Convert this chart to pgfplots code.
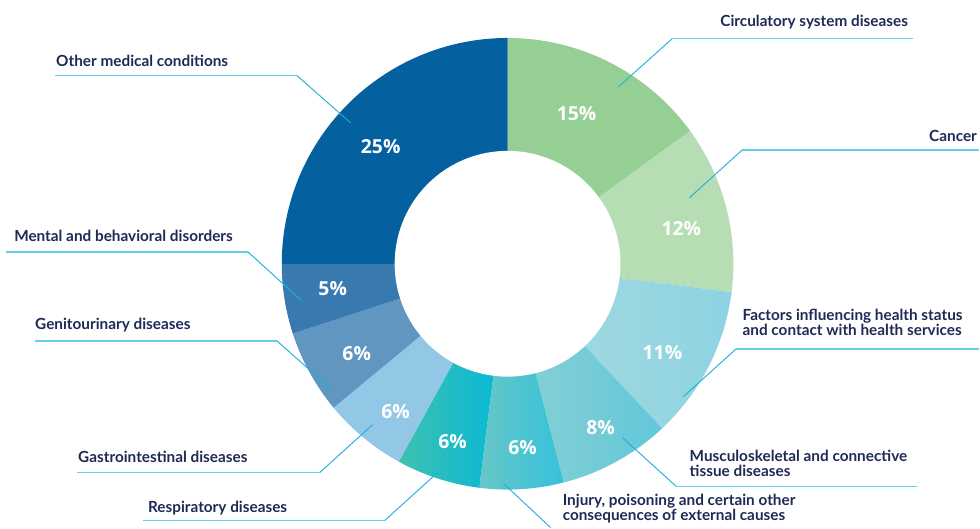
\documentclass[border=0pt]{standalone}
\usepackage{fontspec}
\setmainfont{Lato}
\newfontfamily\pctfont{Open Sans}
\usepackage{pgfplots}
\pgfplotsset{compat=1.18}
\definecolor{cOther}{HTML}{05609F}
\definecolor{cCirc}{HTML}{96CF93}
\definecolor{cCancer}{HTML}{B6DDB3}
\definecolor{cFacL}{HTML}{A8DBDE}
\definecolor{cFacR}{HTML}{8DD3E2}
\definecolor{cMusL}{HTML}{8AD1D3}
\definecolor{cMusR}{HTML}{62C7DA}
\definecolor{cInjL}{HTML}{66C7C6}
\definecolor{cInjR}{HTML}{36C1DB}
\definecolor{cResL}{HTML}{3EC1B2}
\definecolor{cResR}{HTML}{02B8D7}
\definecolor{cGas}{HTML}{92C8E6}
\definecolor{cGen}{HTML}{6096C0}
\definecolor{cMen}{HTML}{3879B0}
\definecolor{lbl}{HTML}{1E2A55}
\definecolor{lineA}{HTML}{1DB2D9}
\definecolor{lineB}{HTML}{62D0EA}
% start (cumulative %), size (%)
\newcommand{\slice}[3]{%
  \addplot[#3, draw=none, domain={#1*3.6}:{(#1+#2)*3.6}, samples=80, variable=\t]
    ({226*sin(\t)},{226*cos(\t)}) -- (axis cs:0,0) -- cycle;}
\newcommand{\leader}[3]{%
  \draw[lineA, line width=0.7pt] (axis cs:#1) -- (axis cs:#2);
  \draw[lineB, line width=1.3pt] (axis cs:#2) -- (axis cs:#3);}
\tikzset{lab/.style={text=lbl, inner sep=0pt, font=\bfseries\fontsize{11.5}{13}\selectfont},
         pct/.style={text=white, inner sep=0pt, font=\pctfont\bfseries\fontsize{14.5}{16}\selectfont}}
\begin{document}
\begin{tikzpicture}
\begin{axis}[x=0.75pt, y=0.75pt, xmin=-508, xmax=472, ymin=-263, ymax=264,
  hide axis, clip=false, scale only axis]
\path (axis cs:-508,-263) rectangle (axis cs:472,264);
\slice{0}{15}{fill=cCirc}
\slice{15}{12}{fill=cCancer}
\slice{27}{11}{left color=cFacL, right color=cFacR}
\slice{38}{8}{left color=cMusL, right color=cMusR}
\slice{46}{6}{left color=cInjL, right color=cInjR}
\slice{52}{6}{left color=cResL, right color=cResR}
\slice{58}{6}{fill=cGas}
\slice{64}{6}{fill=cGen}
\slice{70}{5}{fill=cMen}
\slice{75}{25}{fill=cOther}
\addplot[fill=white, draw=none, domain=0:360, samples=160, variable=\t]
  ({113*cos(\t)},{113*sin(\t)}) -- cycle;
% leader lines
\leader{-157,141}{-211,188.5}{-453,188.5}
\leader{111,177}{165,225.5}{406,225.5}
\leader{182,66}{235,114}{472,114}
\leader{176,-133}{229,-85}{472,-85}
\leader{115,-174}{169,-223}{410,-223}
\draw[lineA, line width=0.7pt] (axis cs:-4,-220) -- (axis cs:43,-264);
\leader{-70,-209}{-123,-257}{-365,-257}
\leader{-135,-161}{-188,-209}{-431,-209}
\leader{-177,-125}{-231,-77}{-473,-77}
\leader{-206,-37}{-260,12}{-502,12}
% percentages
\node[pct] at (axis cs:69,150) {15\%};
\node[pct] at (axis cs:174,35) {12\%};
\node[pct] at (axis cs:155,-89) {11\%};
\node[pct] at (axis cs:93,-164) {8\%};
\node[pct] at (axis cs:15,-184) {6\%};
\node[pct] at (axis cs:-55,-178) {6\%};
\node[pct] at (axis cs:-112,-148) {6\%};
\node[pct] at (axis cs:-151,-90) {6\%};
\node[pct] at (axis cs:-175,-25) {5\%};
\node[pct] at (axis cs:-127,117) {25\%};
% labels
\node[lab, anchor=base west] at (axis cs:-452,197.5) {Other medical conditions};
\node[lab, anchor=base east] at (axis cs:401,237.5) {Circulatory system diseases};
\node[lab, anchor=base east] at (axis cs:470,122.5) {Cancer};
\node[lab, anchor=base west] at (axis cs:235,-57) {Factors influencing health status};
\node[lab, anchor=base west] at (axis cs:235,-72) {and contact with health services};
\node[lab, anchor=base west] at (axis cs:182,-198) {Musculoskeletal and connective};
\node[lab, anchor=base west] at (axis cs:182,-213) {tissue diseases};
\node[lab, anchor=base west] at (axis cs:55,-242) {Injury, poisoning and certain other};
\node[lab, anchor=base west] at (axis cs:55,-257) {consequences of external causes};
\node[lab, anchor=base west] at (axis cs:-360,-249) {Respiratory diseases};
\node[lab, anchor=base west] at (axis cs:-430,-199) {Gastrointestinal diseases};
\node[lab, anchor=base west] at (axis cs:-473,-66) {Genitourinary diseases};
\node[lab, anchor=base west] at (axis cs:-494,22) {Mental and behavioral disorders};
\end{axis}
\end{tikzpicture}
\end{document}
